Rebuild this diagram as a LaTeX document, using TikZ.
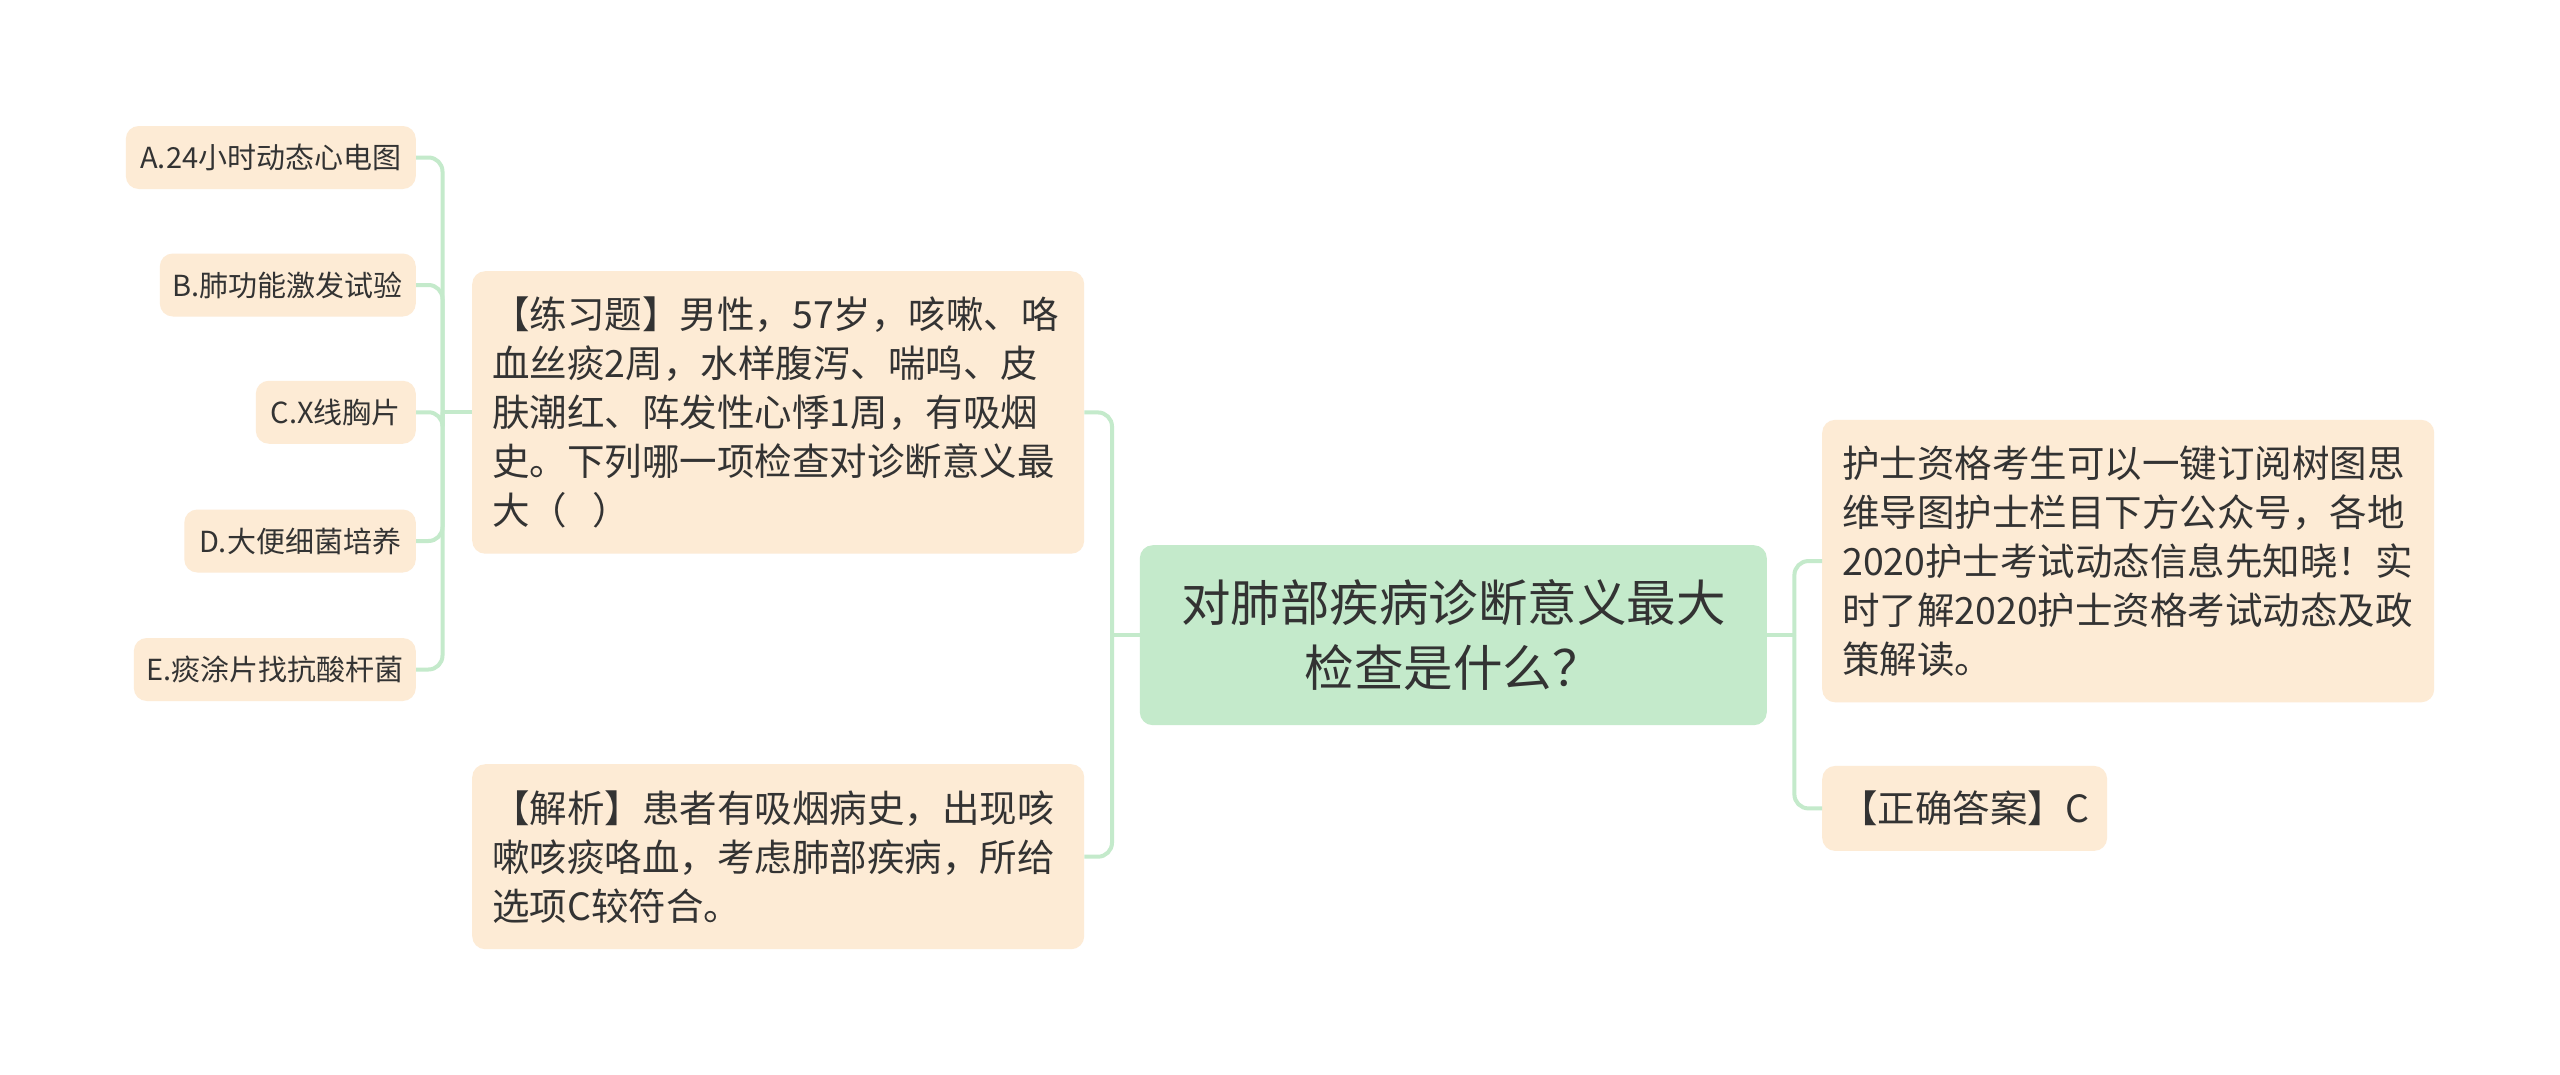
\documentclass[tikz,border=0pt]{standalone}
\usepackage{fontspec}
\newfontfamily\cjk{Noto Sans CJK SC}
\definecolor{peach}{HTML}{FDEBD5}
\definecolor{mint}{HTML}{C4EACB}
\definecolor{linec}{HTML}{C4EACB}
\definecolor{txt}{HTML}{333333}
\begin{document}
\begin{tikzpicture}[x=1pt,y=-1pt,
  box/.style={fill=peach, rounded corners=13pt, text=txt, inner sep=0pt},
  opt/.style={box, font=\cjk\fontsize{29}{34}\selectfont, minimum height=63pt, anchor=east},
  para/.style={box, font=\cjk\fontsize{37.5}{49}\selectfont, align=left, inner xsep=20pt, anchor=north west},
  conn/.style={draw=linec, line width=4pt, rounded corners=14pt}]
\useasboundingbox (0,0) rectangle (2560,1074);
\fill[white] (0,0) rectangle (2560,1074);

% central
\node[box, fill=mint, font=\cjk\fontsize{49.5}{65}\selectfont, align=center,
  minimum width=627pt, minimum height=180pt, anchor=north west] (c) at (1139.6,545)
  {对肺部疾病诊断意义最大\\检查是什么？};

% left branches
\node[para, text width=572pt, minimum height=282.5pt] (q) at (472,271)
  {【练习题】男性，57岁，咳嗽、咯\\血丝痰2周，水样腹泻、喘鸣、皮\\肤潮红、阵发性心悸1周，有吸烟\\史。下列哪一项检查对诊断意义最\\大（~~）};
\node[para, text width=572pt, minimum height=185pt] (an) at (472,764)
  {【解析】患者有吸烟病史，出现咳\\嗽咳痰咯血，考虑肺部疾病，所给\\选项C较符合。};

% options
\node[opt, minimum width=290pt] (oA) at (416,157.5) {A.24小时动态心电图};
\node[opt, minimum width=256pt] (oB) at (416,285) {B.肺功能激发试验};
\node[opt, minimum width=160pt] (oC) at (416,412.25) {C.X线胸片};
\node[opt, minimum width=231.5pt] (oD) at (416,541) {D.大便细菌培养};
\node[opt, minimum width=282pt] (oE) at (416,669.5) {E.痰涂片找抗酸杆菌};

% right branches
\node[para, text width=572pt, minimum height=282.5pt] (n) at (1822,419.6)
  {护士资格考生可以一键订阅树图思\\维导图护士栏目下方公众号，各地\\2020护士考试动态信息先知晓！实\\时了解2020护士资格考试动态及政\\策解读。};
\node[para, inner xsep=18pt, minimum width=282.6pt, minimum height=85pt] (ans) at (1822,765.7)
  {【正确答案】C};

% connectors
\path (q.west) ++(-29.5,0) coordinate (jl);
\draw[conn] (q.west) -- (jl);
\foreach \n in {oA,oB,oC,oD,oE} \draw[conn] (jl) |- (\n.east);

\path (c.west) ++(-27.6,0) coordinate (jm);
\draw[conn] (c.west) -- (jm);
\draw[conn] (jm) |- (q.east);
\draw[conn] (jm) |- (an.east);

\path (c.east) ++(27.4,0) coordinate (jr);
\draw[conn] (c.east) -- (jr);
\draw[conn] (jr) |- (n.west);
\draw[conn] (jr) |- (ans.west);
\end{tikzpicture}
\end{document}
